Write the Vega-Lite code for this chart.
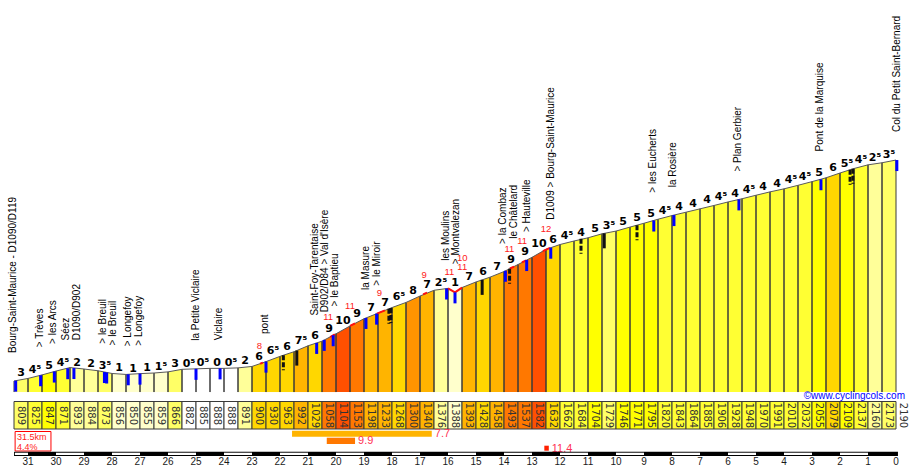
{
  "$schema": "https://vega.github.io/schema/vega-lite/v6.json",
  "width": 912,
  "height": 469,
  "autosize": {"type": "fit", "contains": "padding"},
  "padding": 0,
  "background": "white",
  "config": {"view": {"stroke": null}},
  "datasets": {
    "segs": [
      {"k0": 31.5, "k1": 31, "a0": 809, "a1": 825, "g": "3"},
      {"k0": 31, "k1": 30.5, "a0": 825, "a1": 847, "g": "4⁵"},
      {"k0": 30.5, "k1": 30, "a0": 847, "a1": 871, "g": "5"},
      {"k0": 30, "k1": 29.5, "a0": 871, "a1": 893, "g": "4⁵"},
      {"k0": 29.5, "k1": 29, "a0": 893, "a1": 884, "g": "2"},
      {"k0": 29, "k1": 28.5, "a0": 884, "a1": 873, "g": "2"},
      {"k0": 28.5, "k1": 28, "a0": 873, "a1": 856, "g": "3⁵"},
      {"k0": 28, "k1": 27.5, "a0": 856, "a1": 850, "g": "1"},
      {"k0": 27.5, "k1": 27, "a0": 850, "a1": 855, "g": "1"},
      {"k0": 27, "k1": 26.5, "a0": 855, "a1": 859, "g": "1"},
      {"k0": 26.5, "k1": 26, "a0": 859, "a1": 866, "g": "1⁵"},
      {"k0": 26, "k1": 25.5, "a0": 866, "a1": 882, "g": "3"},
      {"k0": 25.5, "k1": 25, "a0": 882, "a1": 885, "g": "0⁵"},
      {"k0": 25, "k1": 24.5, "a0": 885, "a1": 888, "g": "0⁵"},
      {"k0": 24.5, "k1": 24, "a0": 888, "a1": 888, "g": "0"},
      {"k0": 24, "k1": 23.5, "a0": 888, "a1": 891, "g": "0⁵"},
      {"k0": 23.5, "k1": 23, "a0": 891, "a1": 900, "g": "2"},
      {"k0": 23, "k1": 22.5, "a0": 900, "a1": 930, "g": "6"},
      {"k0": 22.5, "k1": 22, "a0": 930, "a1": 963, "g": "6⁵"},
      {"k0": 22, "k1": 21.5, "a0": 963, "a1": 992, "g": "6"},
      {"k0": 21.5, "k1": 21, "a0": 992, "a1": 1029, "g": "7⁵"},
      {"k0": 21, "k1": 20.5, "a0": 1029, "a1": 1058, "g": "6"},
      {"k0": 20.5, "k1": 20, "a0": 1058, "a1": 1104, "g": "9"},
      {"k0": 20, "k1": 19.5, "a0": 1104, "a1": 1153, "g": "10"},
      {"k0": 19.5, "k1": 19, "a0": 1153, "a1": 1198, "g": "9"},
      {"k0": 19, "k1": 18.5, "a0": 1198, "a1": 1233, "g": "7"},
      {"k0": 18.5, "k1": 18, "a0": 1233, "a1": 1268, "g": "7"},
      {"k0": 18, "k1": 17.5, "a0": 1268, "a1": 1300, "g": "6⁵"},
      {"k0": 17.5, "k1": 17, "a0": 1300, "a1": 1340, "g": "8"},
      {"k0": 17, "k1": 16.5, "a0": 1340, "a1": 1376, "g": "7"},
      {"k0": 16.5, "k1": 16, "a0": 1376, "a1": 1388, "g": "2⁵"},
      {"k0": 16, "k1": 15.5, "a0": 1388, "a1": 1393, "g": "1"},
      {"k0": 15.5, "k1": 15, "a0": 1393, "a1": 1428, "g": "7"},
      {"k0": 15, "k1": 14.5, "a0": 1428, "a1": 1458, "g": "6"},
      {"k0": 14.5, "k1": 14, "a0": 1458, "a1": 1493, "g": "7"},
      {"k0": 14, "k1": 13.5, "a0": 1493, "a1": 1537, "g": "9"},
      {"k0": 13.5, "k1": 13, "a0": 1537, "a1": 1582, "g": "9"},
      {"k0": 13, "k1": 12.5, "a0": 1582, "a1": 1632, "g": "10"},
      {"k0": 12.5, "k1": 12, "a0": 1632, "a1": 1662, "g": "6"},
      {"k0": 12, "k1": 11.5, "a0": 1662, "a1": 1684, "g": "4⁵"},
      {"k0": 11.5, "k1": 11, "a0": 1684, "a1": 1704, "g": "4"},
      {"k0": 11, "k1": 10.5, "a0": 1704, "a1": 1729, "g": "5"},
      {"k0": 10.5, "k1": 10, "a0": 1729, "a1": 1746, "g": "3⁵"},
      {"k0": 10, "k1": 9.5, "a0": 1746, "a1": 1771, "g": "5"},
      {"k0": 9.5, "k1": 9, "a0": 1771, "a1": 1795, "g": "5"},
      {"k0": 9, "k1": 8.5, "a0": 1795, "a1": 1820, "g": "5"},
      {"k0": 8.5, "k1": 8, "a0": 1820, "a1": 1843, "g": "4⁵"},
      {"k0": 8, "k1": 7.5, "a0": 1843, "a1": 1864, "g": "4"},
      {"k0": 7.5, "k1": 7, "a0": 1864, "a1": 1885, "g": "4"},
      {"k0": 7, "k1": 6.5, "a0": 1885, "a1": 1906, "g": "4"},
      {"k0": 6.5, "k1": 6, "a0": 1906, "a1": 1928, "g": "4⁵"},
      {"k0": 6, "k1": 5.5, "a0": 1928, "a1": 1948, "g": "4"},
      {"k0": 5.5, "k1": 5, "a0": 1948, "a1": 1970, "g": "4⁵"},
      {"k0": 5, "k1": 4.5, "a0": 1970, "a1": 1991, "g": "4"},
      {"k0": 4.5, "k1": 4, "a0": 1991, "a1": 2010, "g": "4"},
      {"k0": 4, "k1": 3.5, "a0": 2010, "a1": 2032, "g": "4⁵"},
      {"k0": 3.5, "k1": 3, "a0": 2032, "a1": 2055, "g": "4⁵"},
      {"k0": 3, "k1": 2.5, "a0": 2055, "a1": 2079, "g": "5"},
      {"k0": 2.5, "k1": 2, "a0": 2079, "a1": 2109, "g": "6"},
      {"k0": 2, "k1": 1.5, "a0": 2109, "a1": 2137, "g": "5⁵"},
      {"k0": 1.5, "k1": 1, "a0": 2137, "a1": 2160, "g": "4⁵"},
      {"k0": 1, "k1": 0.5, "a0": 2160, "a1": 2173, "g": "2⁵"},
      {"k0": 0.5, "k1": 0, "a0": 2173, "a1": 2190, "g": "3⁵"}
    ],
    "prof": [
      {"km": 31.5, "alt": 809}, {"km": 31, "alt": 825}, {"km": 30.5, "alt": 847}, {"km": 30, "alt": 871},
      {"km": 29.5, "alt": 893}, {"km": 29, "alt": 884}, {"km": 28.5, "alt": 873}, {"km": 28, "alt": 856},
      {"km": 27.5, "alt": 850}, {"km": 27, "alt": 855}, {"km": 26.5, "alt": 859}, {"km": 26, "alt": 866},
      {"km": 25.5, "alt": 882}, {"km": 25, "alt": 885}, {"km": 24.5, "alt": 888}, {"km": 24, "alt": 888},
      {"km": 23.5, "alt": 891}, {"km": 23, "alt": 900}, {"km": 22.5, "alt": 930}, {"km": 22, "alt": 963},
      {"km": 21.5, "alt": 992}, {"km": 21, "alt": 1029}, {"km": 20.5, "alt": 1058}, {"km": 20, "alt": 1104},
      {"km": 19.5, "alt": 1153}, {"km": 19, "alt": 1198}, {"km": 18.5, "alt": 1233}, {"km": 18, "alt": 1268},
      {"km": 17.5, "alt": 1300}, {"km": 17, "alt": 1340}, {"km": 16.5, "alt": 1376}, {"km": 16, "alt": 1388},
      {"km": 15.75, "alt": 1363}, {"km": 15.5, "alt": 1393}, {"km": 15, "alt": 1428}, {"km": 14.5, "alt": 1458},
      {"km": 14, "alt": 1493}, {"km": 13.5, "alt": 1537}, {"km": 13, "alt": 1582}, {"km": 12.5, "alt": 1632},
      {"km": 12, "alt": 1662}, {"km": 11.5, "alt": 1684}, {"km": 11, "alt": 1704}, {"km": 10.5, "alt": 1729},
      {"km": 10, "alt": 1746}, {"km": 9.5, "alt": 1771}, {"km": 9, "alt": 1795}, {"km": 8.5, "alt": 1820},
      {"km": 8, "alt": 1843}, {"km": 7.5, "alt": 1864}, {"km": 7, "alt": 1885}, {"km": 6.5, "alt": 1906},
      {"km": 6, "alt": 1928}, {"km": 5.5, "alt": 1948}, {"km": 5, "alt": 1970}, {"km": 4.5, "alt": 1991},
      {"km": 4, "alt": 2010}, {"km": 3.5, "alt": 2032}, {"km": 3, "alt": 2055}, {"km": 2.5, "alt": 2079},
      {"km": 2, "alt": 2109}, {"km": 1.5, "alt": 2137}, {"km": 1, "alt": 2160}, {"km": 0.5, "alt": 2173},
      {"km": 0, "alt": 2190}
    ],
    "marks": [
      {"km": 31.44, "alt": 811, "kind": "place"},
      {"km": 30.55, "alt": 845, "kind": "place"},
      {"km": 30.06, "alt": 868, "kind": "place"},
      {"km": 29.58, "alt": 889, "kind": "place"},
      {"km": 29.36, "alt": 890, "kind": "place"},
      {"km": 28.27, "alt": 865, "kind": "place"},
      {"km": 28.19, "alt": 862, "kind": "place"},
      {"km": 27.42, "alt": 851, "kind": "place"},
      {"km": 27.0, "alt": 855, "kind": "place"},
      {"km": 25.0, "alt": 885, "kind": "place"},
      {"km": 24.14, "alt": 888, "kind": "place"},
      {"km": 22.5, "alt": 930, "kind": "place"},
      {"km": 20.69, "alt": 1047, "kind": "place"},
      {"km": 20.42, "alt": 1066, "kind": "place"},
      {"km": 20.1, "alt": 1095, "kind": "place"},
      {"km": 18.93, "alt": 1203, "kind": "place"},
      {"km": 18.55, "alt": 1230, "kind": "place"},
      {"km": 16.05, "alt": 1387, "kind": "place"},
      {"km": 15.75, "alt": 1363, "kind": "place"},
      {"km": 13.95, "alt": 1498, "kind": "place"},
      {"km": 13.19, "alt": 1565, "kind": "place"},
      {"km": 12.33, "alt": 1642, "kind": "place"},
      {"km": 8.65, "alt": 1812, "kind": "place"},
      {"km": 7.93, "alt": 1846, "kind": "place"},
      {"km": 5.61, "alt": 1944, "kind": "place"},
      {"km": 2.68, "alt": 2070, "kind": "place"},
      {"km": -0.03, "alt": 2190, "kind": "place"},
      {"km": 21.88, "alt": 970, "kind": "bend2"},
      {"km": 21.4, "alt": 999, "kind": "bend"},
      {"km": 18.11, "alt": 1260, "kind": "bend2"},
      {"km": 18.04, "alt": 1265, "kind": "bend2"},
      {"km": 14.78, "alt": 1441, "kind": "bend"},
      {"km": 13.8, "alt": 1510, "kind": "bend2"},
      {"km": 11.25, "alt": 1698, "kind": "bend2"},
      {"km": 10.42, "alt": 1732, "kind": "bend"},
      {"km": 9.25, "alt": 1783, "kind": "bend2"},
      {"km": 1.64, "alt": 2129, "kind": "bend2"},
      {"km": 1.54, "alt": 2135, "kind": "bend2"}
    ],
    "places": [
      {"km": 31.52, "alt": 809, "name": "Bourg-Saint-Maurice - D1090/D119"},
      {"km": 30.57, "alt": 845, "name": "> Trèves"},
      {"km": 30.1, "alt": 866, "name": "> les Arcs"},
      {"km": 29.64, "alt": 887, "name": "Séez"},
      {"km": 29.26, "alt": 889, "name": "D1090/D902"},
      {"km": 28.33, "alt": 867, "name": "> le Breuil"},
      {"km": 27.98, "alt": 856, "name": "> le Breuil"},
      {"km": 27.44, "alt": 851, "name": "> Longefoy"},
      {"km": 27.03, "alt": 855, "name": "> Longefoy"},
      {"km": 25.0, "alt": 885, "name": "la Petite Viclaire"},
      {"km": 24.18, "alt": 888, "name": "Viclaire"},
      {"km": 22.54, "alt": 928, "name": "pont"},
      {"km": 20.75, "alt": 1043, "name": "Saint-Foy-Tarentaise"},
      {"km": 20.39, "alt": 1063, "name": "D902/D84 > Val d'Isère"},
      {"km": 20.04, "alt": 1100, "name": "> le Baptieu"},
      {"km": 18.93, "alt": 1203, "name": "la Masure"},
      {"km": 18.55, "alt": 1230, "name": "> le Miroir"},
      {"km": 16.07, "alt": 1386, "name": "les Moulins"},
      {"km": 15.73, "alt": 1364, "name": "> Montvalezan"},
      {"km": 14.03, "alt": 1491, "name": "> la Combaz"},
      {"km": 13.64, "alt": 1523, "name": "le Châtelard"},
      {"km": 13.19, "alt": 1565, "name": "> Hauteville"},
      {"km": 12.33, "alt": 1642, "name": "D1009 > Bourg-Saint-Maurice"},
      {"km": 8.67, "alt": 1811, "name": "> les Eucherts"},
      {"km": 7.95, "alt": 1845, "name": "la Rosière"},
      {"km": 5.63, "alt": 1943, "name": "> Plan Gerbier"},
      {"km": 2.71, "alt": 2069, "name": "Pont de la Marquise"},
      {"km": -0.03, "alt": 2190, "name": "Col du Petit Saint-Bernard"}
    ],
    "steep": [
      {"km": 22.74, "alt": 1030, "v": "8"},
      {"km": 20.28, "alt": 1211, "v": "11"},
      {"km": 19.5, "alt": 1278, "v": "11"},
      {"km": 18.45, "alt": 1357, "v": "9"},
      {"km": 16.85, "alt": 1471, "v": "9"},
      {"km": 15.95, "alt": 1490, "v": "11"},
      {"km": 15.49, "alt": 1580, "v": "10"},
      {"km": 15.49, "alt": 1521, "v": "11"},
      {"km": 13.81, "alt": 1634, "v": "11"},
      {"km": 13.35, "alt": 1686, "v": "11"},
      {"km": 12.5, "alt": 1759, "v": "12"}
    ],
    "steepLines": [
      {"k0": 22.71, "a0": 917, "k1": 22.61, "a1": 924},
      {"k0": 20.21, "a0": 1084, "k1": 20.04, "a1": 1101},
      {"k0": 19.5, "a0": 1153, "k1": 19.32, "a1": 1169},
      {"k0": 18.54, "a0": 1230, "k1": 18.25, "a1": 1250},
      {"k0": 16.89, "a0": 1350, "k1": 16.75, "a1": 1361},
      {"k0": 16, "a0": 1388, "k1": 15.75, "a1": 1363},
      {"k0": 15.75, "a0": 1363, "k1": 15.5, "a1": 1393},
      {"k0": 13.79, "a0": 1512, "k1": 13.64, "a1": 1524},
      {"k0": 13.36, "a0": 1550, "k1": 13.21, "a1": 1563},
      {"k0": 12.61, "a0": 1621, "k1": 12.36, "a1": 1641}
    ],
    "stretches": [
      {"k0": 21.57, "k1": 16.58, "pct": 7.7},
      {"k0": 20.33, "k1": 19.32, "pct": 9.9},
      {"k0": 12.56, "k1": 12.4, "pct": 11.4}
    ],
    "climb": [
      {"start": 31.5, "dist": "31.5km", "avg": "4.4%", "site": "©www.cyclingcols.com"}
    ],
    "kms": [
      {"km": 0}, {"km": 1}, {"km": 2}, {"km": 3}, {"km": 4}, {"km": 5}, {"km": 6}, {"km": 7},
      {"km": 8}, {"km": 9}, {"km": 10}, {"km": 11}, {"km": 12}, {"km": 13}, {"km": 14}, {"km": 15},
      {"km": 16}, {"km": 17}, {"km": 18}, {"km": 19}, {"km": 20}, {"km": 21}, {"km": 22}, {"km": 23},
      {"km": 24}, {"km": 25}, {"km": 26}, {"km": 27}, {"km": 28}, {"km": 29}, {"km": 30}, {"km": 31}
    ],
    "ruler": [
      {"k0": 31.47, "k1": 31}, {"k0": 30, "k1": 29}, {"k0": 28, "k1": 27}, {"k0": 26, "k1": 25},
      {"k0": 24, "k1": 23}, {"k0": 22, "k1": 21}, {"k0": 20, "k1": 19}, {"k0": 18, "k1": 17},
      {"k0": 16, "k1": 15}, {"k0": 14, "k1": 13}, {"k0": 12, "k1": 11}, {"k0": 10, "k1": 9},
      {"k0": 8, "k1": 7}, {"k0": 6, "k1": 5}, {"k0": 4, "k1": 3}, {"k0": 2, "k1": 1}
    ]
  },
  "resolve": {"scale": {"y": "independent"}},
  "layer": [
    {
      "layer": [
        {
          "data": {"name": "segs"},
          "transform": [{"calculate": "max(datum.a0, datum.a1)", "as": "top"}],
          "mark": {"type": "rect", "strokeWidth": 0},
          "encoding": {
            "x": {"field": "k0", "type": "quantitative", "scale": {"domain": [32, -0.5714], "nice": false, "zero": false}, "axis": null},
            "x2": {"field": "k1"},
            "y": {"field": "top", "type": "quantitative", "scale": {"domain": [259, 3190.25], "nice": false, "zero": false}, "axis": null},
            "y2": {"datum": 740},
            "color": {
              "field": "g", "type": "nominal", "legend": null,
              "scale": {
                "domain": ["0", "0⁵", "1", "1⁵", "2", "2⁵", "3", "3⁵", "4", "4⁵", "5", "5⁵", "6", "6⁵", "7", "7⁵", "8", "9", "10"],
                "range": ["#ffffff", "#ffffff", "#ffffcc", "#ffffcc", "#ffff99", "#ffff99", "#ffff66", "#ffff66", "#ffff33", "#ffff33", "#ffff00", "#ffff00", "#ffd700", "#ffd700", "#ffb400", "#ffb400", "#ff9400", "#ff7800", "#ff5000"]
              }
            }
          }
        },
        {
          "data": {"name": "prof"},
          "mark": {"type": "area", "color": "white", "interpolate": "linear"},
          "encoding": {
            "x": {"field": "km", "type": "quantitative", "axis": null},
            "y": {"field": "alt", "type": "quantitative", "axis": null},
            "y2": {"datum": 3190}
          }
        },
        {
          "data": {"name": "segs"},
          "mark": {"type": "rule", "color": "#3a3a3a", "strokeWidth": 1},
          "encoding": {
            "x": {"field": "k0", "type": "quantitative", "axis": null},
            "y": {"field": "a0", "type": "quantitative", "axis": null},
            "y2": {"datum": 740}
          }
        },
        {
          "data": {"name": "segs"},
          "mark": {"type": "rule", "color": "#3a3a3a", "strokeWidth": 1},
          "encoding": {
            "x": {"field": "k1", "type": "quantitative", "axis": null},
            "y": {"field": "a1", "type": "quantitative", "axis": null},
            "y2": {"datum": 740}
          }
        },
        {
          "data": {"name": "prof"},
          "mark": {"type": "line", "color": "#5a5a5a", "strokeWidth": 1},
          "encoding": {
            "x": {"field": "km", "type": "quantitative", "axis": null},
            "y": {"field": "alt", "type": "quantitative", "axis": null}
          }
        },
        {
          "data": {"name": "steepLines"},
          "mark": {"type": "rule", "color": "#ff1010", "strokeWidth": 2},
          "encoding": {
            "x": {"field": "k0", "type": "quantitative", "axis": null},
            "y": {"field": "a0", "type": "quantitative", "axis": null},
            "x2": {"field": "k1"},
            "y2": {"field": "a1"}
          }
        },
        {
          "data": {"name": "marks"},
          "transform": [{"filter": "datum.kind === 'place'"}],
          "mark": {"type": "point", "shape": "M0,0V2", "size": 121, "filled": false, "stroke": "#0000ff", "strokeWidth": 3, "strokeCap": "butt", "opacity": 1},
          "encoding": {
            "x": {"field": "km", "type": "quantitative", "axis": null},
            "y": {"field": "alt", "type": "quantitative", "axis": null}
          }
        },
        {
          "data": {"name": "marks"},
          "transform": [{"filter": "datum.kind === 'bend'"}],
          "mark": {"type": "point", "shape": "M0,0V2", "size": 225, "filled": false, "stroke": "#111111", "strokeWidth": 3, "strokeCap": "butt", "opacity": 1},
          "encoding": {
            "x": {"field": "km", "type": "quantitative", "axis": null},
            "y": {"field": "alt", "type": "quantitative", "axis": null}
          }
        },
        {
          "data": {"name": "marks"},
          "transform": [{"filter": "datum.kind === 'bend2'"}],
          "mark": {"type": "point", "shape": "M0,0V2", "size": 225, "filled": false, "stroke": "#111111", "strokeWidth": 3, "strokeCap": "butt", "strokeDash": [5, 2], "opacity": 1},
          "encoding": {
            "x": {"field": "km", "type": "quantitative", "axis": null},
            "y": {"field": "alt", "type": "quantitative", "axis": null}
          }
        },
        {
          "data": {"name": "segs"},
          "transform": [{"calculate": "max(datum.a0, datum.a1)", "as": "top"}],
          "mark": {"type": "text", "font": "DejaVu Sans", "fontWeight": "bold", "fontSize": 11, "color": "#000000", "align": "center", "baseline": "alphabetic", "dx": 7, "dy": -2},
          "encoding": {
            "x": {"field": "k0", "type": "quantitative", "axis": null},
            "y": {"field": "top", "type": "quantitative", "axis": null},
            "text": {"field": "g"}
          }
        },
        {
          "data": {"name": "steep"},
          "mark": {"type": "text", "font": "Liberation Sans", "fontSize": 9.5, "color": "#ff1a1a", "align": "center", "baseline": "middle"},
          "encoding": {
            "x": {"field": "km", "type": "quantitative", "axis": null},
            "y": {"field": "alt", "type": "quantitative", "axis": null},
            "text": {"field": "v"}
          }
        },
        {
          "data": {"name": "places"},
          "mark": {"type": "text", "font": "Liberation Sans", "fontSize": 10, "color": "#000000", "angle": 270, "align": "left", "baseline": "middle", "dx": 28},
          "encoding": {
            "x": {"field": "km", "type": "quantitative", "axis": null},
            "y": {"field": "alt", "type": "quantitative", "axis": null},
            "text": {"field": "name"}
          }
        }
      ]
    },
    {
      "layer": [
        {
          "data": {"name": "segs"},
          "mark": {"type": "rect", "stroke": "#3a3a3a", "strokeWidth": 1},
          "encoding": {
            "x": {"field": "k0", "type": "quantitative", "axis": null},
            "x2": {"field": "k1"},
            "y": {"datum": 401.5, "type": "quantitative", "scale": {"domain": [0, 469], "reverse": true, "nice": false, "zero": false}, "axis": null},
            "y2": {"datum": 429},
            "color": {"field": "g", "type": "nominal", "legend": null}
          }
        },
        {
          "data": {"name": "segs"},
          "mark": {"type": "text", "font": "DejaVu Sans", "fontSize": 10, "color": "#333333", "angle": 90, "align": "center", "baseline": "middle", "dy": -7},
          "encoding": {
            "x": {"field": "k0", "type": "quantitative", "axis": null},
            "y": {"datum": 415.5, "type": "quantitative", "axis": null},
            "text": {"field": "a0"}
          }
        },
        {
          "data": {"name": "segs"},
          "transform": [{"filter": "datum.k1 === 0"}],
          "mark": {"type": "text", "font": "DejaVu Sans", "fontSize": 10, "color": "#333333", "angle": 90, "align": "center", "baseline": "middle", "dy": -7},
          "encoding": {
            "x": {"field": "k1", "type": "quantitative", "axis": null},
            "y": {"datum": 415.5, "type": "quantitative", "axis": null},
            "text": {"field": "a1"}
          }
        },
        {
          "data": {"name": "climb"},
          "mark": {"type": "text", "font": "Liberation Sans", "fontSize": 10, "color": "#0000ff", "align": "right", "baseline": "middle"},
          "encoding": {
            "x": {"datum": -0.32, "type": "quantitative", "axis": null},
            "y": {"datum": 395.5, "type": "quantitative", "axis": null},
            "text": {"field": "site"}
          }
        },
        {
          "data": {"name": "climb"},
          "mark": {"type": "rect", "fill": "white", "stroke": "#ff0000", "strokeWidth": 1},
          "encoding": {
            "x": {"datum": 31.46, "type": "quantitative", "axis": null},
            "x2": {"datum": 30.18},
            "y": {"datum": 431.5, "type": "quantitative", "axis": null},
            "y2": {"datum": 451}
          }
        },
        {
          "data": {"name": "climb"},
          "mark": {"type": "text", "font": "Liberation Sans", "fontSize": 9, "color": "#ff1a1a", "align": "left", "baseline": "middle"},
          "encoding": {
            "x": {"datum": 31.39, "type": "quantitative", "axis": null},
            "y": {"datum": 436.5, "type": "quantitative", "axis": null},
            "text": {"field": "dist"}
          }
        },
        {
          "data": {"name": "climb"},
          "mark": {"type": "text", "font": "Liberation Sans", "fontSize": 9, "color": "#ff1a1a", "align": "left", "baseline": "middle"},
          "encoding": {
            "x": {"datum": 31.39, "type": "quantitative", "axis": null},
            "y": {"datum": 446.5, "type": "quantitative", "axis": null},
            "text": {"field": "avg"}
          }
        },
        {
          "data": {"name": "stretches"},
          "transform": [{"filter": "datum.pct === 7.7"}],
          "layer": [
            {
              "mark": {"type": "rect"},
              "encoding": {
                "x": {"field": "k0", "type": "quantitative", "axis": null},
                "x2": {"field": "k1"},
                "y": {"datum": 430.7, "type": "quantitative", "axis": null},
                "y2": {"datum": 436.7},
                "fill": {"field": "pct", "type": "quantitative", "legend": null, "scale": {"type": "threshold", "domain": [8, 10], "range": ["#ffb400", "#ff7800", "#ff2000"]}}
              }
            },
            {
              "mark": {"type": "text", "font": "Liberation Sans", "fontSize": 11, "color": "#ff3355", "align": "left", "baseline": "middle", "dx": 3},
              "encoding": {
                "x": {"field": "k1", "type": "quantitative", "axis": null},
                "y": {"datum": 434, "type": "quantitative", "axis": null},
                "text": {"field": "pct", "format": ".1f"}
              }
            }
          ]
        },
        {
          "data": {"name": "stretches"},
          "transform": [{"filter": "datum.pct === 9.9"}],
          "layer": [
            {
              "mark": {"type": "rect"},
              "encoding": {
                "x": {"field": "k0", "type": "quantitative", "axis": null},
                "x2": {"field": "k1"},
                "y": {"datum": 437.7, "type": "quantitative", "axis": null},
                "y2": {"datum": 444},
                "fill": {"field": "pct", "type": "quantitative", "legend": null, "scale": {"type": "threshold", "domain": [8, 10], "range": ["#ffb400", "#ff7800", "#ff2000"]}}
              }
            },
            {
              "mark": {"type": "text", "font": "Liberation Sans", "fontSize": 11, "color": "#ff3355", "align": "left", "baseline": "middle", "dx": 3},
              "encoding": {
                "x": {"field": "k1", "type": "quantitative", "axis": null},
                "y": {"datum": 441, "type": "quantitative", "axis": null},
                "text": {"field": "pct", "format": ".1f"}
              }
            }
          ]
        },
        {
          "data": {"name": "stretches"},
          "transform": [{"filter": "datum.pct === 11.4"}],
          "layer": [
            {
              "mark": {"type": "rect"},
              "encoding": {
                "x": {"field": "k0", "type": "quantitative", "axis": null},
                "x2": {"field": "k1"},
                "y": {"datum": 445.7, "type": "quantitative", "axis": null},
                "y2": {"datum": 450.7},
                "fill": {"field": "pct", "type": "quantitative", "legend": null, "scale": {"type": "threshold", "domain": [8, 10], "range": ["#ffb400", "#ff7800", "#ff2000"]}}
              }
            },
            {
              "mark": {"type": "text", "font": "Liberation Sans", "fontSize": 11, "color": "#ff3355", "align": "left", "baseline": "middle", "dx": 3},
              "encoding": {
                "x": {"field": "k1", "type": "quantitative", "axis": null},
                "y": {"datum": 448.5, "type": "quantitative", "axis": null},
                "text": {"field": "pct", "format": ".1f"}
              }
            }
          ]
        },
        {
          "data": {"name": "climb"},
          "mark": {"type": "rect", "fill": "#000000"},
          "encoding": {
            "x": {"field": "start", "type": "quantitative", "axis": null},
            "x2": {"datum": -0.07},
            "y": {"datum": 451.7, "type": "quantitative", "axis": null},
            "y2": {"datum": 456}
          }
        },
        {
          "data": {"name": "ruler"},
          "mark": {"type": "rect", "fill": "#ffffff"},
          "encoding": {
            "x": {"field": "k0", "type": "quantitative", "axis": null},
            "x2": {"field": "k1"},
            "y": {"datum": 452.7, "type": "quantitative", "axis": null},
            "y2": {"datum": 455}
          }
        },
        {
          "data": {"name": "kms"},
          "mark": {"type": "text", "font": "Liberation Sans", "fontSize": 10, "color": "#1a1a1a", "align": "center", "baseline": "middle"},
          "encoding": {
            "x": {"field": "km", "type": "quantitative", "axis": null},
            "y": {"datum": 461.5, "type": "quantitative", "axis": null},
            "text": {"field": "km"}
          }
        }
      ]
    }
  ]
}
